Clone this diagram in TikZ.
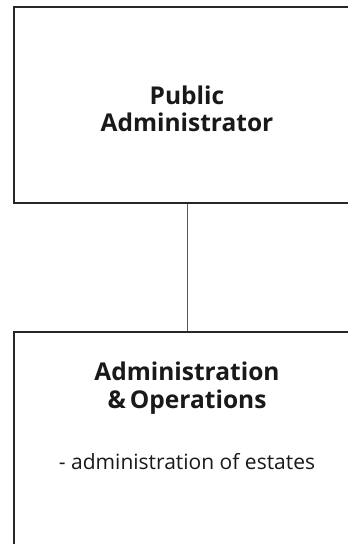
\documentclass[tikz,border=0pt]{standalone}
\usepackage{fontspec}
\setmainfont{Open Sans}
\begin{document}
\begin{tikzpicture}[x=1pt,y=1pt,
  unitbox/.style={draw=black!85,line width=2pt,rectangle,inner sep=0pt,fill=none},
  title/.style={align=center,font=\bfseries\fontsize{24.5}{31}\selectfont,text=black!90,inner sep=0pt},
  body/.style={align=center,font=\fontsize{21}{25}\selectfont,text=black!90,inner sep=0pt},
  link/.style={draw=black!65,line width=1pt}]
\useasboundingbox (0,0) rectangle (348,-544);
\clip (0,0) rectangle (348,-544);
\fill[white] (0,0) rectangle (348,-544);
\node[unitbox,minimum width=346pt,minimum height=196pt] (top) at (187,-105) {};
\node[unitbox,minimum width=346pt,minimum height=224pt] (bot) at (187,-444) {};
\draw[link] (top.south) -- (bot.north);
\node[title,anchor=base] (t1) at (187,-104) {Public};
\node[title,anchor=base] (t2) at (187,-131) {Administrator};
\node[title,anchor=base] (b1) at (187,-380) {Administration};
\node[title,anchor=base] (b2) at (187,-408) {\&\,Operations};
\node[body,anchor=base] (b3) at (187,-469) {- administration of estates};
\end{tikzpicture}
\end{document}
